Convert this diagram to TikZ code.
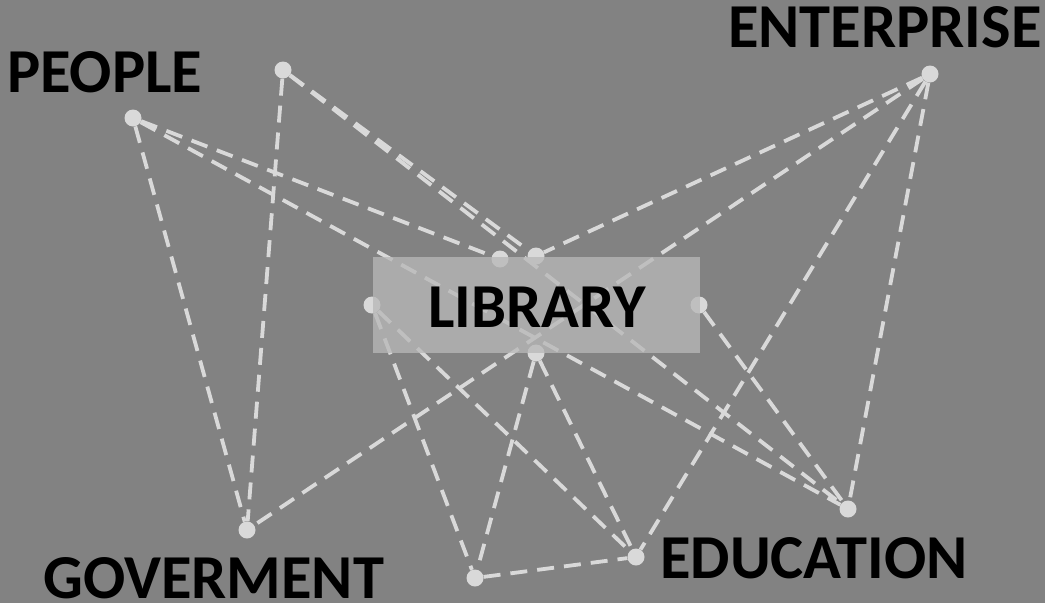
\documentclass[tikz,border=0pt]{standalone}
\usepackage{fontspec}
\setmainfont{Carlito}
\definecolor{bgcol}{RGB}{130,130,130}
\definecolor{dashcol}{RGB}{217,217,217}
\definecolor{boxcol}{RGB}{184,184,184}
\begin{document}
\begin{tikzpicture}[x=1pt,y=-1pt,
  dot/.style={circle,fill=dashcol,inner sep=0pt,minimum size=17pt},
  link/.style={draw=dashcol,line width=3.8pt,dash pattern=on 17pt off 10pt},
  label/.style={inner sep=0pt,anchor=base west,text depth=0pt,font=\fontsize{62.5}{70}\selectfont\bfseries,text=black}]
\fill[bgcol] (0,0) rectangle (1045,603);
\useasboundingbox (0,0) rectangle (1045,603);
% dots
\node[dot] (A) at (133,118) {};
\node[dot] (B) at (283,70) {};
\node[dot] (E) at (930,74) {};
\node[dot] (T1) at (500,259) {};
\node[dot] (T2) at (536,256) {};
\node[dot] (Lf) at (372,305) {};
\node[dot] (R) at (699,305) {};
\node[dot] (Bt) at (536,353) {};
\node[dot] (G) at (247,530) {};
\node[dot] (D1) at (636,557) {};
\node[dot] (D2) at (475,578) {};
\node[dot] (D3) at (848,509) {};
% links
\draw[link] (A) -- (G);
\draw[link] (A) -- (T1);
\draw[link] (A) -- (D3);
\draw[link] (B) -- (G);
\draw[link] (B) -- (T2);
\draw[link] (B) -- (D3);
\draw[link] (E) -- (T2);
\draw[link] (E) -- (G);
\draw[link] (E) -- (D1);
\draw[link] (E) -- (D3);
\draw[link] (Lf) -- (D2);
\draw[link] (Lf) -- (D1);
\draw[link] (Bt) -- (D2);
\draw[link] (Bt) -- (D1);
\draw[link] (R) -- (D3);
\draw[link] (D2) -- (D1);
% library box
\fill[boxcol,opacity=0.76] (373,257) rectangle (700,353);
% labels
\node[label] (lib) at (428,327) {LIBRARY};
\node[label] (ppl) at (7,92) {PEOPLE};
\node[label] (ent) at (728,47) {ENTERPRISE};
\node[label] (gov) at (43,598) {GOVERMENT};
\node[label] (edu) at (660,578) {EDUCATION};
\end{tikzpicture}
\end{document}
